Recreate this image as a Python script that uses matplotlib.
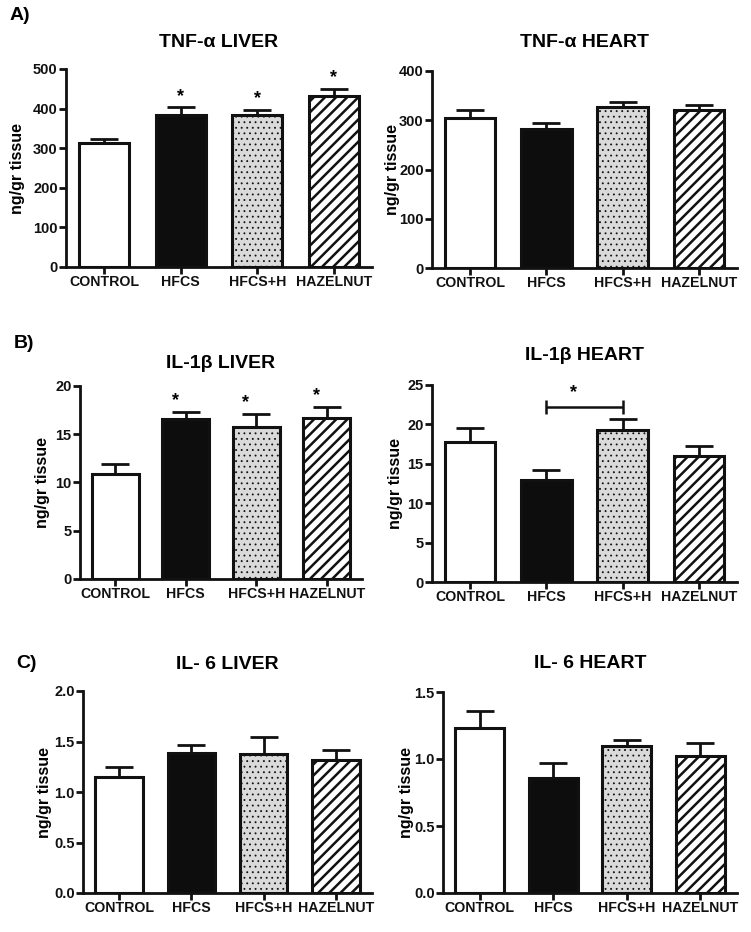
import numpy as np
import matplotlib.pyplot as plt

plt.rcParams['font.family'] = ['Liberation Sans', 'DejaVu Sans']
plt.rcParams['font.weight'] = 'bold'
plt.rcParams['axes.titleweight'] = 'bold'
plt.rcParams['axes.labelweight'] = 'bold'
plt.rcParams['hatch.linewidth'] = 1.0

groups = ['CONTROL', 'HFCS', 'HFCS+H', 'HAZELNUT']

# values (mean, SEM)
tnf_liver = [312, 385, 385, 433]
tnf_liver_err = [10, 18, 11, 16]
tnf_heart = [304, 282, 326, 320]
tnf_heart_err = [17, 13, 12, 10]

il1b_liver = [10.9, 16.6, 15.8, 16.7]
il1b_liver_err = [1.0, 0.7, 1.3, 1.1]
il1b_heart = [17.8, 12.9, 19.3, 16.0]
il1b_heart_err = [1.8, 1.3, 1.4, 1.3]

il6_liver = [1.15, 1.39, 1.38, 1.32]
il6_liver_err = [0.10, 0.08, 0.16, 0.10]
il6_heart = [1.23, 0.86, 1.10, 1.02]
il6_heart_err = [0.13, 0.11, 0.04, 0.10]

fills = ['white', '#0d0d0d', '#dadada', 'white']
hatches = ['', '', '...', '///']
hatch_lw = [1.0, 1.0, 0.6, 1.8]
EDGE = '#111111'

W, H = 751, 932
fig = plt.figure(figsize=(W / 100, H / 100), dpi=100)


def rect(x0, y0, x1, y1):
    # pixel box -> figure fraction
    return [x0 / W, 1 - y1 / H, (x1 - x0) / W, (y1 - y0) / H]


def panel(box, vals, errs, title, ymax, step, fmt, label_d, pad, stars=(), star_dx=0.0):
    ax = fig.add_axes(rect(*box))
    x = np.arange(len(groups))
    bars = ax.bar(x, vals, width=0.66, color=fills, edgecolor=EDGE, linewidth=2.2, zorder=2)
    for b, h, lw in zip(bars, hatches, hatch_lw):
        b.set_hatch(h)
        if hasattr(b, 'set_hatch_linewidth'):
            b.set_hatch_linewidth(lw)
    ax.errorbar(x, vals, yerr=[np.zeros(len(vals)), errs], fmt='none', ecolor=EDGE,
                elinewidth=2, capsize=10, capthick=2, zorder=3)
    for i in stars:
        ax.annotate('*', (x[i] + star_dx, vals[i] + errs[i]), xytext=(0, 2),
                    textcoords='offset points', ha='center', va='bottom', fontsize=13)
    ax.set_xlim(-0.5, 3.5)
    ax.set_ylim(0, ymax)
    ax.set_yticks(np.arange(0, ymax + step / 2, step))
    ax.yaxis.set_major_formatter(plt.FormatStrFormatter(fmt))
    ax.set_xticks(x)
    ax.set_xticklabels(groups)
    for s in ['top', 'right']:
        ax.spines[s].set_visible(False)
    for s in ['left', 'bottom']:
        ax.spines[s].set_linewidth(2)
        ax.spines[s].set_color(EDGE)
    ax.tick_params(axis='both', width=2, length=5, labelsize=10.5, colors=EDGE, pad=1)
    ax.tick_params(axis='x', labelsize=10.2)
    ax.set_ylabel('ng/gr tissue', fontsize=11.5)
    ax.yaxis.set_label_coords(-label_d / (box[2] - box[0]), 0.5)
    ax.set_title(title, fontsize=14, pad=pad)
    return ax


panel((66, 69, 372, 267), tnf_liver, tnf_liver_err, 'TNF-α LIVER', 500, 100, '%d', 41, 16,
      stars=(1, 2, 3))
panel((432, 71, 737, 268), tnf_heart, tnf_heart_err, 'TNF-α HEART', 400, 100, '%d', 32, 17)

panel((80, 386, 362, 579), il1b_liver, il1b_liver_err, 'IL-1β LIVER', 20, 5, '%d', 30, 13,
      stars=(1, 2, 3), star_dx=-0.15)
axb = panel((432, 385, 737, 582), il1b_heart, il1b_heart_err, 'IL-1β HEART', 25, 5, '%d', 29, 18)
# significance bracket HFCS vs HFCS+H
axb.errorbar([1.5], [22.2], xerr=[[0.5], [0.5]], fmt='none', ecolor=EDGE,
             elinewidth=1.8, capsize=5, capthick=1.8)
axb.text(1.35, 22.9, '*', ha='center', va='bottom', fontsize=13)

panel((83, 691, 372, 893), il6_liver, il6_liver_err, 'IL- 6 LIVER', 2.0, 0.5, '%.1f', 31, 16)
panel((443, 692, 737, 893), il6_heart, il6_heart_err, 'IL- 6 HEART', 1.5, 0.5, '%.1f', 29, 17)

fig.text(10 / W, 1 - 15 / H, 'A)', fontsize=14, va='center', ha='left')
fig.text(14 / W, 1 - 343 / H, 'B)', fontsize=14, va='center', ha='left')
fig.text(16 / W, 1 - 663 / H, 'C)', fontsize=14, va='center', ha='left')

fig.savefig('out.png', dpi=100)
